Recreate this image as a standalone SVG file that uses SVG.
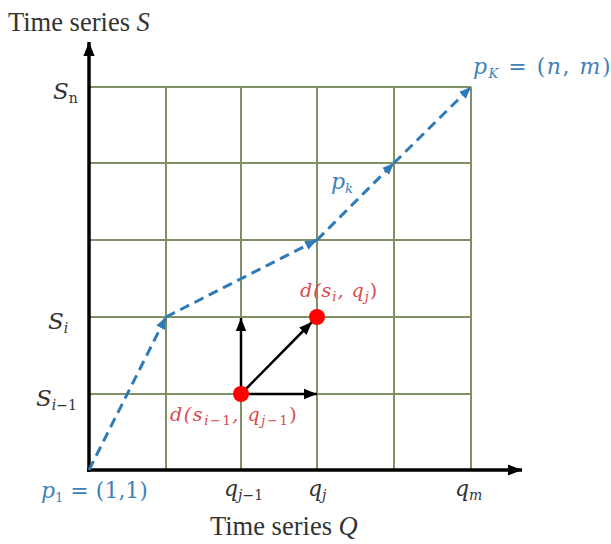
<svg xmlns="http://www.w3.org/2000/svg" width="611" height="544" viewBox="0 0 611 544">
<style>
.grid{stroke:#7f9164;stroke-width:2;fill:none}
.axis{stroke:#000;stroke-width:3.5;fill:none}
.path{stroke:#2f7bb8;stroke-width:3;stroke-dasharray:10 6;fill:none}
.blk{stroke:#000;stroke-width:2.5;fill:none}
.lbl{font-family:"Liberation Serif",serif;fill:#333}
.math{font-family:"DejaVu Serif","Liberation Serif",serif;font-style:italic}
.up{font-style:normal}
.blue{fill:#3d82b8}
.red{fill:#d94a4a}
.dark{fill:#333}
</style>
<defs>
<marker id="axh" viewBox="0 0 10 10" refX="10" refY="5" markerWidth="14" markerHeight="14" orient="auto" markerUnits="userSpaceOnUse">
<path d="M0,1 L10,5 L0,9 Z" fill="#000"/>
</marker>
<marker id="bh" viewBox="0 0 10 10" refX="10" refY="5" markerWidth="12" markerHeight="12" orient="auto" markerUnits="userSpaceOnUse">
<path d="M0,1 L10,5 L0,9 Z" fill="#2f7bb8"/>
</marker>
<marker id="kh" viewBox="0 0 10 10" refX="10" refY="5" markerWidth="13" markerHeight="13" orient="auto" markerUnits="userSpaceOnUse">
<path d="M0,1 L10,5 L0,9 Z" fill="#000"/>
</marker>
</defs>
<rect width="611" height="544" fill="#fff"/>
<g id="grid">
<path class="grid" d="M89,87 H471 M89,163 H471 M89,240 H471 M89,317 H471 M89,394 H471 M166,87 V470 M241,87 V470 M317,87 V470 M394,87 V470 M471,87 V470"/>
</g>
<g id="axes">
<line class="axis" x1="89" y1="472" x2="89" y2="42" marker-end="url(#axh)"/>
<line class="axis" x1="87" y1="470" x2="522" y2="470" marker-end="url(#axh)"/>
</g>
<g id="connectors">
<line class="path" x1="89" y1="470" x2="166" y2="317" marker-end="url(#bh)"/>
<line class="path" x1="166" y1="317" x2="317" y2="240" marker-end="url(#bh)"/>
<line class="path" x1="317" y1="240" x2="394" y2="163" marker-end="url(#bh)"/>
<line class="path" x1="394" y1="163" x2="471" y2="87" marker-end="url(#bh)"/>
<line class="blk" x1="241" y1="394" x2="241" y2="318" marker-end="url(#kh)"/>
<line class="blk" x1="241" y1="394" x2="317" y2="394" marker-end="url(#kh)"/>
<line class="blk" x1="241" y1="394" x2="312" y2="322" marker-end="url(#kh)"/>
</g>
<g id="node-prev">
<circle cx="241" cy="394" r="8" fill="#ff0000"/>
<text class="math red" x="170" y="421" font-size="19" letter-spacing="1.6">d(s<tspan font-size="13" dy="4">i</tspan><tspan font-size="13" class="up">−1</tspan><tspan dy="-4">, q</tspan><tspan font-size="13" dy="4">j</tspan><tspan font-size="13" class="up">−1</tspan><tspan dy="-4" class="up">)</tspan></text>
</g>
<g id="node-cur">
<circle cx="317" cy="317" r="8" fill="#ff0000"/>
<text class="math red" x="300" y="297" font-size="19" letter-spacing="1">d(s<tspan font-size="13" dy="4">i</tspan><tspan dy="-4">, q</tspan><tspan font-size="13" dy="4">j</tspan><tspan dy="-4" class="up">)</tspan></text>
</g>
<g id="labels">
<text class="lbl" x="8" y="31" font-size="26.5">Time series <tspan font-style="italic">S</tspan></text>
<text class="lbl" x="210" y="535" font-size="26.5">Time series <tspan font-style="italic">Q</tspan></text>
<text class="math dark" x="53" y="99" font-size="23">S<tspan font-size="14" dy="4" class="up">n</tspan></text>
<text class="math dark" x="48" y="329" font-size="23">S<tspan font-size="14" dy="4">i</tspan></text>
<text class="math dark" x="36" y="406" font-size="23">S<tspan font-size="14" dy="4">i</tspan><tspan font-size="14" class="up">−1</tspan></text>
<text class="math blue" x="41" y="498" font-size="22">p<tspan font-size="13" dy="4" class="up">1</tspan><tspan dy="-4" class="up"> = (1,1)</tspan></text>
<text class="math dark" x="224" y="496" font-size="22">q<tspan font-size="14" dy="4">j</tspan><tspan font-size="14" class="up">−1</tspan></text>
<text class="math dark" x="308" y="496" font-size="22">q<tspan font-size="14" dy="4">j</tspan></text>
<text class="math dark" x="455" y="496" font-size="22">q<tspan font-size="14" dy="4">m</tspan></text>
<text class="math blue" x="473" y="74" font-size="22" letter-spacing="1.5">p<tspan font-size="13" dy="4">K</tspan><tspan dy="-4" class="up"> = (</tspan>n<tspan class="up">, </tspan>m<tspan class="up">)</tspan></text>
<text class="math blue" x="331" y="189" font-size="22">p<tspan font-size="13" dy="4">k</tspan></text>
</g>
</svg>
